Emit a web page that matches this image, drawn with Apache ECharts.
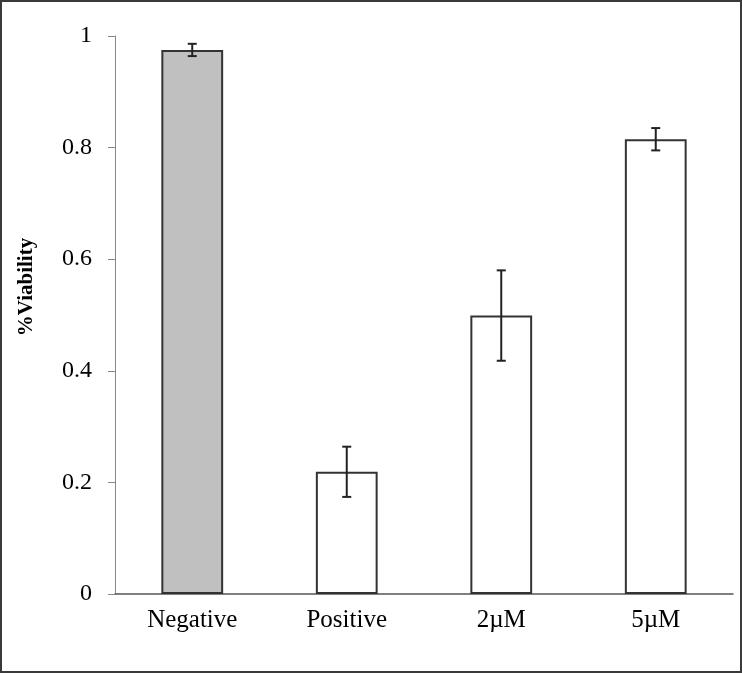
<!DOCTYPE html>
<html>
<head>
<meta charset="utf-8">
<script src="https://cdn.jsdelivr.net/npm/echarts@6/dist/echarts.min.js"></script>
<style>
html,body{margin:0;padding:0;background:#fff;}
#chart{width:742px;height:673px;}
</style>
</head>
<body>
<div id="chart"></div>
<script>
const categories = ['Negative', 'Positive', '2\u00b5M', '5\u00b5M'];
const values = [0.975, 0.219, 0.499, 0.815];
const errors = [0.011, 0.045, 0.081, 0.020];
const barColors = ['#c0c0c0', '#ffffff', '#ffffff', '#ffffff'];

const chart = echarts.init(document.getElementById('chart'));
const font = '"Liberation Serif", "Times New Roman", serif';

chart.setOption({
  animation: false,
  backgroundColor: '#fff',
  graphic: [{
    type: 'rect',
    shape: {x: 1, y: 1, width: 740, height: 671},
    style: {fill: 'none', stroke: '#3a3a3a', lineWidth: 2},
    silent: true
  }],
  grid: {left: 115, right: 9, top: 36, bottom: 79, containLabel: false},
  xAxis: {
    type: 'category',
    data: categories,
    axisLine: {show: true, lineStyle: {color: '#555', width: 1.5}},
    axisTick: {show: false},
    axisLabel: {fontFamily: font, fontSize: 25, color: '#000', margin: 14}
  },
  yAxis: {
    type: 'value',
    min: 0, max: 1, interval: 0.2,
    name: '%Viability',
    nameLocation: 'middle',
    nameGap: 78,
    nameRotate: 90,
    nameTextStyle: {fontFamily: font, fontSize: 21, fontWeight: 'bold', color: '#000', padding: [0, 0, 0, 56]},
    axisLine: {show: true, lineStyle: {color: '#888', width: 1}},
    axisTick: {show: true, inside: false, length: 7, lineStyle: {color: '#888'}},
    splitLine: {show: false},
    axisLabel: {fontFamily: font, fontSize: 24, color: '#000', margin: 23}
  },
  series: [{
    type: 'bar',
    barWidth: '40%',
    data: values.map((v, i) => ({value: v, itemStyle: {color: barColors[i]}})),
    itemStyle: {borderColor: '#333', borderWidth: 2}
  }, {
    type: 'custom',
    data: values.map((v, i) => [i, v - errors[i], v + errors[i]]),
    renderItem: function (params, api) {
      const x = api.value(0);
      const lo = api.coord([x, api.value(1)]);
      const hi = api.coord([x, api.value(2)]);
      const hw = 4.5;
      const style = {stroke: '#222', lineWidth: 2};
      return {
        type: 'group',
        children: [
          {type: 'line', shape: {x1: lo[0], y1: lo[1], x2: hi[0], y2: hi[1]}, style: style},
          {type: 'line', shape: {x1: lo[0] - hw, y1: lo[1], x2: lo[0] + hw, y2: lo[1]}, style: style},
          {type: 'line', shape: {x1: hi[0] - hw, y1: hi[1], x2: hi[0] + hw, y2: hi[1]}, style: style}
        ]
      };
    },
    z: 5
  }]
});
</script>
</body>
</html>
